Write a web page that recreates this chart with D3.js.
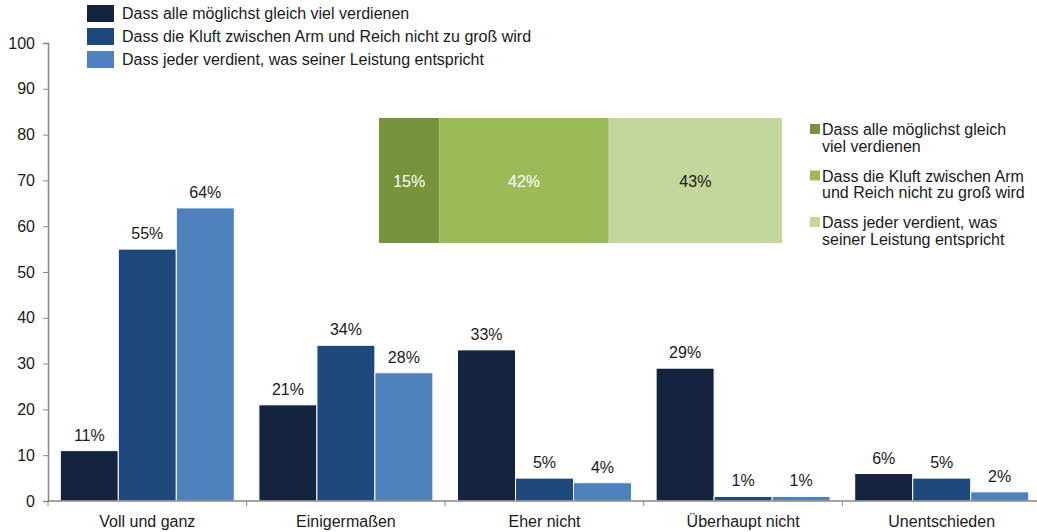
<!DOCTYPE html>
<html>
<head>
<meta charset="utf-8">
<script src="https://cdn.jsdelivr.net/npm/d3@7"></script>
<style>
  html, body { margin: 0; padding: 0; background: #fff; }
  svg { display: block; font-family: "Liberation Sans", Arial, sans-serif; }
</style>
</head>
<body>
<svg id="chart" width="1037" height="532"></svg>
<script>
// Antwortkategorien und Werte (Prozent)
const categories = ["Voll und ganz", "Einigermaßen", "Eher nicht", "Überhaupt nicht", "Unentschieden"];
const seriesNames = [
  "Dass alle möglichst gleich viel verdienen",
  "Dass die Kluft zwischen Arm und Reich nicht zu groß wird",
  "Dass jeder verdient, was seiner Leistung entspricht"
];
const gleichViel = [11, 21, 33, 29, 6];
const kluft = [55, 34, 5, 1, 5];
const leistung = [64, 28, 4, 1, 2];
const yTicks = [0, 10, 20, 30, 40, 50, 60, 70, 80, 90, 100];
const barColors = ["#14243f", "#1f497d", "#4f81bd"];

// Wichtigstes Ziel (gestapelter Balken)
const stackNames = [
  ["Dass alle möglichst gleich", "viel verdienen"],
  ["Dass die Kluft zwischen Arm", "und Reich nicht zu groß wird"],
  ["Dass jeder verdient, was", "seiner Leistung entspricht"]
];
const stackValues = [15, 42, 43];
const stackColors = ["#77933c", "#9bbb59", "#c3d69b"];
const stackLabelColors = ["#ffffff", "#ffffff", "#1a1a1a"];

const svg = d3.select("#chart");
const axisColor = "#868686";
const textColor = "#1a1a1a";
const fontSize = 16;

const x0 = d3.scaleBand().domain(categories).range([48, 1041]).paddingInner(0.124).paddingOuter(0.062);
const x1 = d3.scaleBand().domain([0, 1, 2]).range([0, x0.bandwidth()]);
const y = d3.scaleLinear().domain([0, 100]).range([501, 43]);

const series = [gleichViel, kluft, leistung];

// Balken
const groups = svg.append("g").selectAll("g")
  .data(categories)
  .join("g")
  .attr("transform", d => `translate(${x0(d)},0)`);

groups.selectAll("rect")
  .data((c, i) => series.map((s, k) => ({ k, v: s[i] })))
  .join("rect")
  .attr("x", d => x1(d.k))
  .attr("y", d => y(d.v))
  .attr("width", x1.bandwidth())
  .attr("height", d => y(0) - y(d.v))
  .attr("fill", d => barColors[d.k])
  .attr("stroke", "#ffffff")
  .attr("stroke-width", 1);

groups.selectAll("text")
  .data((c, i) => series.map((s, k) => ({ k, v: s[i] })))
  .join("text")
  .attr("x", d => x1(d.k) + x1.bandwidth() / 2)
  .attr("y", d => y(d.v) - 10)
  .attr("text-anchor", "middle")
  .attr("font-size", fontSize)
  .attr("fill", textColor)
  .text(d => d.v + "%");

// y-Achse
const yAxis = svg.append("g")
  .attr("transform", "translate(48,0)")
  .call(d3.axisLeft(y).tickValues(yTicks).tickSize(5).tickPadding(8));
yAxis.select(".domain").attr("stroke", axisColor).attr("stroke-width", 1.5);
yAxis.selectAll(".tick line").attr("stroke", axisColor);
yAxis.selectAll(".tick text").attr("font-size", fontSize).attr("fill", textColor)
  .attr("font-family", "Liberation Sans, Arial, sans-serif");

// x-Achse mit Trennstrichen zwischen den Kategorien
const xAxisG = svg.append("g").attr("transform", "translate(0,501)");
xAxisG.append("line").attr("x1", 48).attr("x2", 1041).attr("y1", 0).attr("y2", 0)
  .attr("stroke", axisColor).attr("stroke-width", 1.5);
const boundaries = d3.range(categories.length + 1).map(i => 48 + i * (1041 - 48) / categories.length);
xAxisG.selectAll("line.sep").data(boundaries).join("line")
  .attr("class", "sep")
  .attr("x1", d => d).attr("x2", d => d).attr("y1", 0).attr("y2", 5)
  .attr("stroke", axisColor);
xAxisG.selectAll("text").data(categories).join("text")
  .attr("x", d => x0(d) + x0.bandwidth() / 2)
  .attr("y", 26)
  .attr("text-anchor", "middle")
  .attr("font-size", fontSize)
  .attr("fill", textColor)
  .text(d => d);

// Legende oben
const legend = svg.append("g").attr("transform", "translate(87,5)");
seriesNames.forEach((name, i) => {
  const row = legend.append("g").attr("transform", `translate(0,${i * 23})`);
  row.append("rect").attr("width", 27).attr("height", 17).attr("fill", barColors[i]);
  row.append("text").attr("x", 35).attr("y", 14).attr("font-size", fontSize)
    .attr("fill", textColor).text(name);
});

// Gestapelter Balken (Einschub)
const xs = d3.scaleLinear().domain([0, 100]).range([379, 782]);
let acc = 0;
const stackData = stackValues.map((v, i) => {
  const d = { i, v, start: acc };
  acc += v;
  return d;
});
const inset = svg.append("g");
inset.selectAll("rect").data(stackData).join("rect")
  .attr("x", d => xs(d.start))
  .attr("y", 118)
  .attr("width", d => xs(d.start + d.v) - xs(d.start))
  .attr("height", 125)
  .attr("fill", d => stackColors[d.i]);
inset.selectAll("text").data(stackData).join("text")
  .attr("x", d => xs(d.start + d.v / 2))
  .attr("y", 187)
  .attr("text-anchor", "middle")
  .attr("font-size", fontSize)
  .attr("fill", d => stackLabelColors[d.i])
  .text(d => d.v + "%");

const insetLegend = svg.append("g").attr("transform", "translate(810,0)");
stackNames.forEach((lines, i) => {
  const base = 135 + i * 46.5;
  const row = insetLegend.append("g");
  row.append("rect").attr("x", 0).attr("y", base - 11).attr("width", 10).attr("height", 10)
    .attr("fill", stackColors[i]);
  lines.forEach((t, j) => {
    row.append("text").attr("x", 12).attr("y", base + j * 16.5).attr("font-size", fontSize)
      .attr("fill", textColor).text(t);
  });
});
</script>
</body>
</html>
